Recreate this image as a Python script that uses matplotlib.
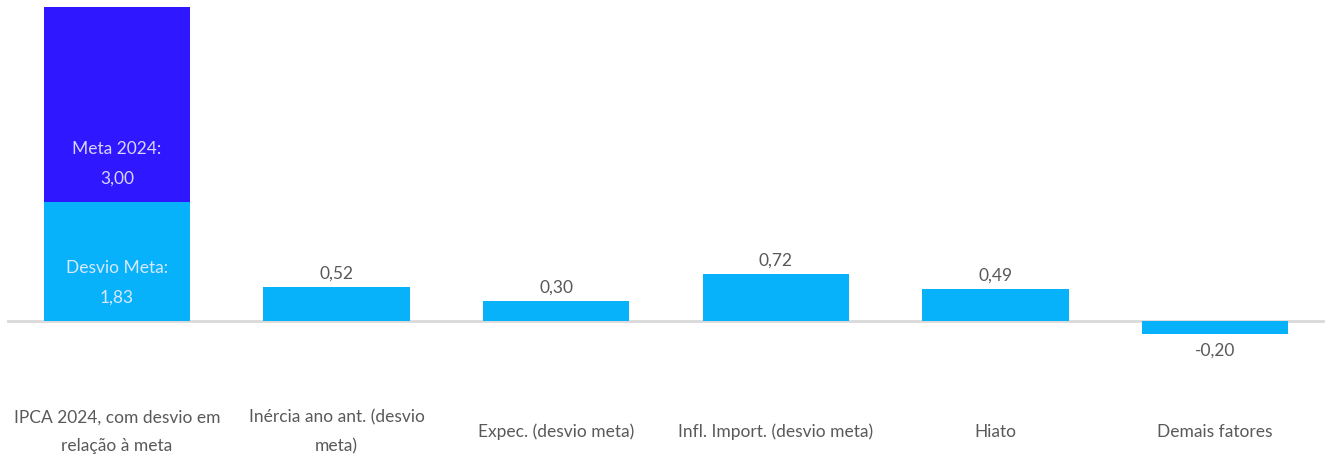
import matplotlib.pyplot as plt

plt.rcParams['font.family'] = ['Lato', 'DejaVu Sans']

categorias = ["IPCA 2024, com desvio em\nrelação à meta", "Inércia ano ant. (desvio\nmeta)",
              "Expec. (desvio meta)", "Infl. Import. (desvio meta)", "Hiato", "Demais fatores"]
desvios = [1.83, 0.52, 0.30, 0.72, 0.49, -0.20]
meta = 3.00

azul_claro = "#08B2FA"
azul_escuro = "#2F18FF"
cinza = "#595959"
fs = 12.5

fig = plt.figure(figsize=(13.31, 4.59), dpi=100)
ax = fig.add_axes([7 / 1331, 0, 1318 / 1331, 452 / 459])

x = list(range(len(categorias)))
ax.bar(x, desvios, width=0.665, color=azul_claro)
ax.bar(x[0], meta, bottom=desvios[0], width=0.665, color=azul_escuro)

ax.set_xlim(-0.5, len(categorias) - 0.5)
ax.set_ylim(-138 / 65, 4.83)
ax.axhline(0, color="#d9d9d9", lw=2, zorder=0)

# rótulos dentro da primeira barra
ax.text(0, 38 / 65, "Desvio Meta:\n" + f"{desvios[0]:.2f}".replace(".", ","),
        ha="center", va="center", color="#d8e8ff", fontsize=fs, linespacing=2.05)
ax.text(0, 157 / 65, "Meta 2024:\n" + f"{meta:.2f}".replace(".", ","),
        ha="center", va="center", color="#d8d4ff", fontsize=fs, linespacing=2.05)

for i in x[1:]:
    v = desvios[i]
    txt = f"{v:.2f}".replace(".", ",")
    if v >= 0:
        ax.text(i, v + 14 / 65, txt, ha="center", va="center", color=cinza, fontsize=fs)
    else:
        ax.text(i, v - 17 / 65, txt, ha="center", va="center", color=cinza, fontsize=fs)

for i, c in enumerate(categorias):
    ax.text(i, -111 / 65, c, ha="center", va="center", color=cinza, fontsize=fs,
            linespacing=1.95)

ax.axis("off")
fig.savefig("out.png", dpi=100)
